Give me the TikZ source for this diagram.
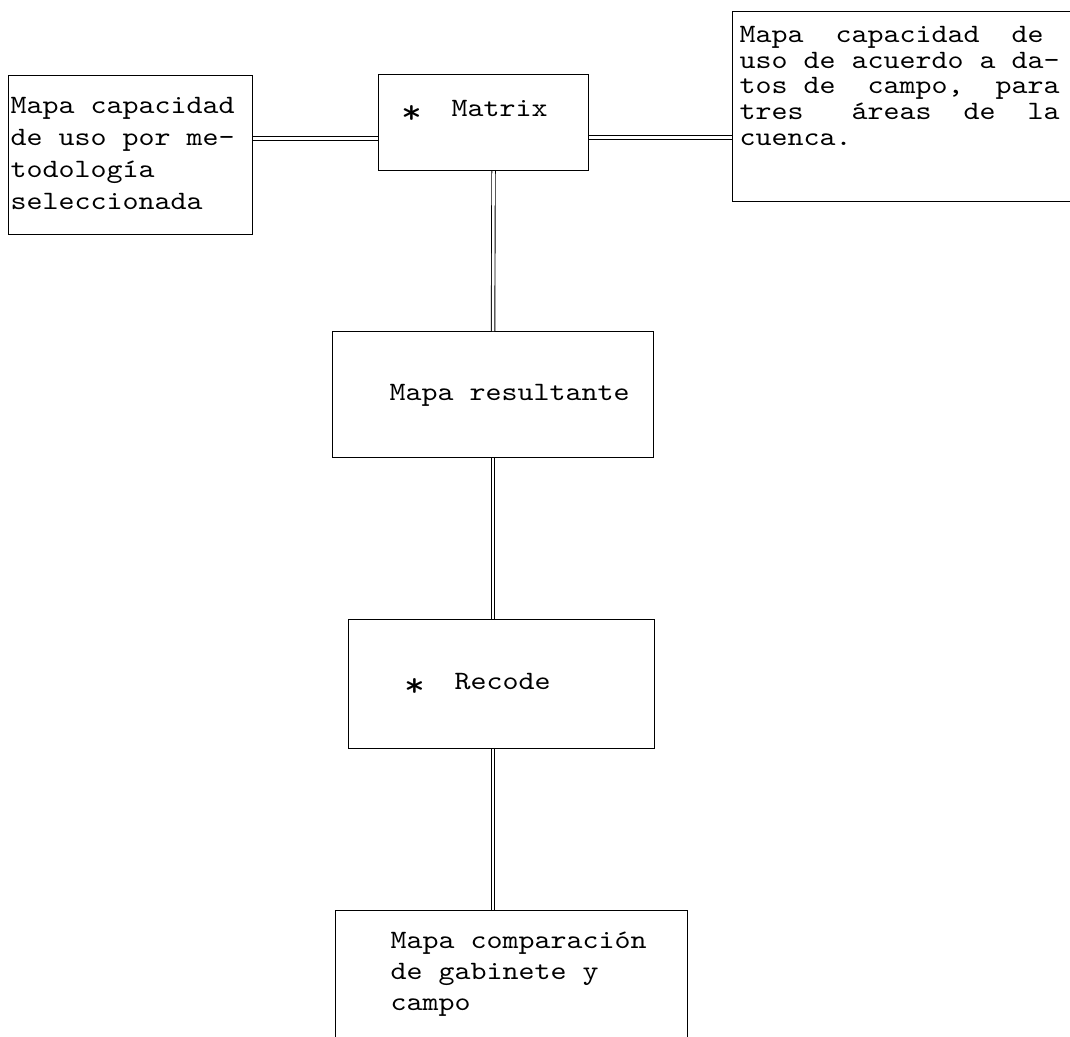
\documentclass[tikz,border=0pt]{standalone}
\usepackage{fontspec}
\setmonofont{lmmono10-regular.otf}[FakeStretch=1.15]
\newcommand{\estrella}{\makebox[16pt]{\raisebox{-.25em}{\scalebox{1.3}{*}}}}
\begin{document}
\begin{tikzpicture}[x=1pt,y=-1pt,
    caja/.style={draw,line width=1.1pt,anchor=north west,inner sep=0pt,align=flush left,
      font=\fontsize{26.5}{#1}\ttfamily\selectfont},
    caja/.default=32,
    doble/.style={double,double distance=2.6pt,line width=0.9pt}]
    \useasboundingbox (0,0) rectangle (1070,1036);
    \node[caja,text width=244pt,text height=38pt,text depth=121pt] (metodo) at (8,75)
      {\leftskip=2pt Mapa capacidad\\de uso por me-\\todología\\seleccionada\par};
    \node[caja,text width=210pt,text height=42pt,text depth=54pt] (matrix) at (378,74)
      {\leftskip=25pt \estrella~~Matrix\par};
    \node[caja=25.7,text width=350pt,text height=31pt,text depth=159pt] (campo) at (732,11)
      {\leftskip=7pt Mapa~~capacidad~~de\\uso de acuerdo a da-\\tos de~~campo,~~para\\tres~~~áreas~~de~~la\\cuenca.\par};
    \node[caja,text width=321pt,text height=69pt,text depth=57pt] (result) at (332,331)
      {\leftskip=57pt Mapa resultante\par};
    \node[caja,text width=306pt,text height=70pt,text depth=59pt] (recode) at (348,619)
      {\leftskip=58pt \estrella~~Recode\par};
    \node[caja=31,text width=352pt,text height=38pt,text depth=140pt] (compara) at (335,910)
      {\leftskip=55pt Mapa comparación\\de gabinete y\\campo\par};
    \draw[doble] ([yshift=16.5pt]metodo.east) -- ([yshift=-16pt]matrix.west);
    \draw[doble] ([yshift=-15pt]matrix.east) -- ([yshift=-31pt]campo.west);
    \draw[doble] ([xshift=10pt]matrix.south) -- (result.north);
    \draw[doble] (result.south) -- ([xshift=-8.5pt]recode.north);
    \draw[doble] ([xshift=-8.5pt]recode.south) -- ([xshift=-18.5pt]compara.north);
  \end{tikzpicture}
\end{document}
